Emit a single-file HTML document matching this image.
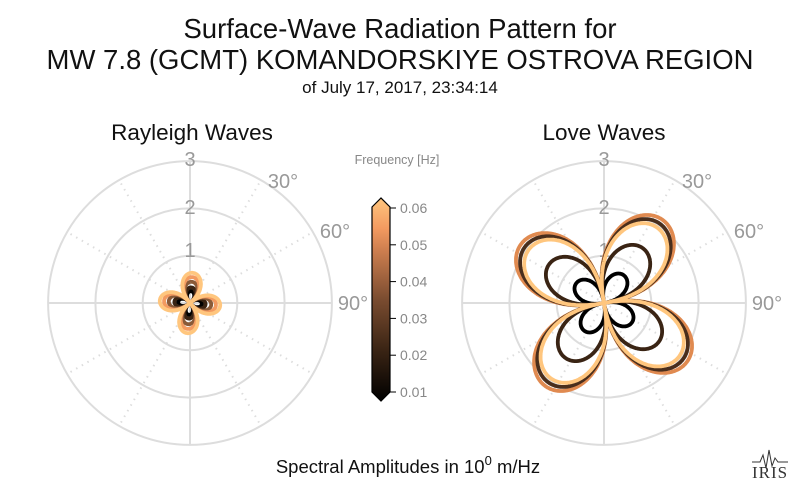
<!DOCTYPE html>
<html><head><meta charset="utf-8"><style>
body{margin:0;background:#fff;}
svg{display:block;font-family:"Liberation Sans",sans-serif;}
</style></head><body>
<svg id="s" width="800" height="493" viewBox="0 0 800 493" xmlns="http://www.w3.org/2000/svg">
<defs>
<linearGradient id="cb" x1="0" y1="1" x2="0" y2="0">
<stop offset="0" stop-color="#000"/>
<stop offset="0.25" stop-color="#3a2414"/>
<stop offset="0.5" stop-color="#7a4c30"/>
<stop offset="0.75" stop-color="#d08050"/>
<stop offset="0.85" stop-color="#f39a60"/>
<stop offset="1" stop-color="#ffc67e"/>
</linearGradient>
</defs>
<text x="400" y="38" font-size="27.5" text-anchor="middle" fill="#111">Surface-Wave Radiation Pattern for</text>
<text x="400" y="69" font-size="27.5" text-anchor="middle" fill="#111">MW 7.8 (GCMT) KOMANDORSKIYE OSTROVA REGION</text>
<text x="400" y="93" font-size="17" text-anchor="middle" fill="#111">of July 17, 2017, 23:34:14</text>
<text x="192" y="140" font-size="22.5" text-anchor="middle" fill="#111">Rayleigh Waves</text>
<text x="604" y="140" font-size="22.5" text-anchor="middle" fill="#111">Love Waves</text>
<g id="p1"></g><g id="p2"></g>
<text x="397" y="164" font-size="12.5" text-anchor="middle" fill="#888">Frequency [Hz]</text>
<path d="M372,207 L381,198 L390,207 L390,392 L381,401 L372,392 Z" fill="url(#cb)" stroke="#000" stroke-width="1.2"/>
<g id="cbt" font-size="14" fill="#888"></g>
<text x="408" y="473" font-size="18.5" text-anchor="middle" fill="#111">Spectral Amplitudes in 10<tspan dy="-8" font-size="13">0</tspan><tspan dy="8"> m/Hz</tspan></text>
<text x="770" y="478" font-size="17" text-anchor="middle" fill="#333" font-family="Liberation Serif,serif" letter-spacing="1">IRIS</text>
<path d="M752,462 L760,462 L763,455 L766,468 L769,450 L772,466 L775,458 L778,462 L788,462" stroke="#333" fill="none" stroke-width="1"/>
</svg>
<script>
const NS="http://www.w3.org/2000/svg";
function el(g,t,a,txt){const e=document.createElementNS(NS,t);for(const k in a)e.setAttribute(k,a[k]);if(txt)e.textContent=txt;g.appendChild(e);return e;}
const U=47.3;
function axes(g,cx,cy){
 [1,2,3].forEach(r=>el(g,'circle',{cx:cx,cy:cy,r:r*U,fill:'none',stroke:'#ddd','stroke-width':2}));
 for(let a=0;a<360;a+=30){const t=a*Math.PI/180;const solid=a%90==0;
  el(g,'line',{x1:cx,y1:cy,x2:cx+3*U*Math.sin(t),y2:cy-3*U*Math.cos(t),stroke:'#ddd','stroke-width':2,'stroke-dasharray':solid?'':'1.5,5'});}
 [[1,257],[2,214],[3,166]].forEach(([v,y])=>el(g,'text',{x:cx,y:y,'font-size':20,'text-anchor':'middle',fill:'#999'},String(v)));
 el(g,'text',{x:cx+93,y:188,'font-size':20,'text-anchor':'middle',fill:'#999'},'30°');
 el(g,'text',{x:cx+145,y:238,'font-size':20,'text-anchor':'middle',fill:'#999'},'60°');
 el(g,'text',{x:cx+163,y:310,'font-size':20,'text-anchor':'middle',fill:'#999'},'90°');
}
function lobe(g,cx,cy,A,th0,col,fn,p){
 let d='';for(let i=0;i<=720;i++){const t=i/720*2*Math.PI;const r=A*U*Math.pow(Math.abs(fn(2*(t-th0))),p);
  const x=cx+r*Math.sin(t),y=cy-r*Math.cos(t);d+=(i?'L':'M')+x.toFixed(1)+','+y.toFixed(1);}
 el(g,'path',{d:d,fill:'none',stroke:col,'stroke-width':3.8,'stroke-linejoin':'round'});
}
const p1=document.getElementById('p1'),p2=document.getElementById('p2');
axes(p1,190,303);axes(p2,604,303);
const d=Math.PI/180;
[[0.25,'#000'],[0.33,'#3a2414'],[0.45,'#8a5a38'],[0.55,'#f39a60'],[0.64,'#ffc67e']].forEach(([A,c])=>lobe(p1,190,303,A,5*d,c,Math.cos,0.75));
[[0.72,'#000'],[1.42,'#3a2414'],[2.15,'#e08a50'],[2.05,'#4a2e1c'],[1.95,'#ffc67e']].forEach(([A,c])=>lobe(p2,604,303,A,-10*d,c,Math.sin,0.75));
const cbt=document.getElementById('cbt');
for(let i=0;i<6;i++){const y=392-i*36.8;el(cbt,'line',{x1:390,y1:y,x2:396,y2:y,stroke:'#000'});el(cbt,'text',{x:400,y:y+5},'0.0'+(i+1));}
</script>
</body></html>
